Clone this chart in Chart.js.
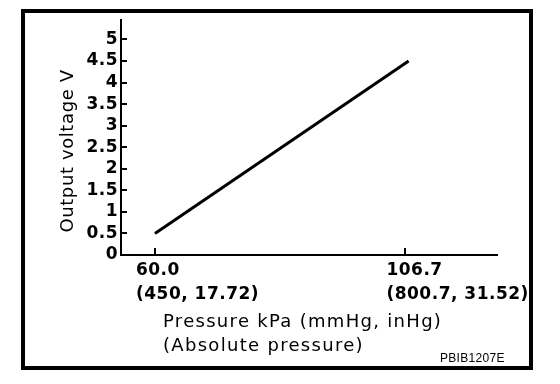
<!DOCTYPE html>
<html>
<head>
<meta charset="utf-8">
<script src="https://cdn.jsdelivr.net/npm/chart.js@4/dist/chart.umd.min.js"></script>
<style>
  html, body { margin: 0; padding: 0; background: #fff; }
  #c { display: block; }
</style>
</head>
<body>
<canvas id="c" width="560" height="384"></canvas>
<script>
// ---- data ----
const pressureKPa = [60.0, 107.3];
const outputVoltage = [0.5, 4.5];
const xTickValues = [60.0, 106.7];
const xTickLabels = [["60.0", "(450, 17.72)"], ["106.7", "(800.7, 31.52)"]];
const yTickValues = [0, 0.5, 1, 1.5, 2, 2.5, 3, 3.5, 4, 4.5, 5];
const yTitle = "Output voltage V";
const xTitleLines = ["Pressure kPa (mmHg, inHg)", "(Absolute pressure)"];
const noteText = "PBIB1207E";

const frameAndText = {
  id: 'frameAndText',
  beforeDraw(chart) {
    const ctx = chart.ctx;
    ctx.save();
    ctx.fillStyle = '#fff';
    ctx.fillRect(0, 0, chart.width, chart.height);
    ctx.restore();
    ctx.letterSpacing = '0.5px';
  },
  afterDraw(chart) {
    const ctx = chart.ctx;
    const xs = chart.scales.x, ys = chart.scales.y;
    const area = chart.chartArea;
    ctx.save();
    ctx.strokeStyle = '#000';
    // inward tick marks
    ctx.lineWidth = 2;
    ctx.beginPath();
    ys.ticks.forEach(t => {
      if (t.value === 0) return;
      const y = Math.round(ys.getPixelForValue(t.value));
      ctx.moveTo(area.left, y);
      ctx.lineTo(area.left + 6, y);
    });
    xs.ticks.forEach(t => {
      const x = Math.round(xs.getPixelForValue(t.value));
      ctx.moveTo(x, area.bottom);
      ctx.lineTo(x, area.bottom - 7);
    });
    ctx.stroke();
    // outer frame
    ctx.lineWidth = 4;
    ctx.strokeRect(23, 11, 508, 357);
    // y title
    ctx.fillStyle = '#000';
    ctx.letterSpacing = '0.6px';
    ctx.font = '18px "DejaVu Sans"';
    ctx.save();
    ctx.translate(73, 151);
    ctx.rotate(-Math.PI / 2);
    ctx.textAlign = 'center';
    ctx.textBaseline = 'alphabetic';
    ctx.fillText(yTitle, 0, 0);
    ctx.restore();
    // x title
    ctx.letterSpacing = '1.3px';
    ctx.textAlign = 'left';
    ctx.textBaseline = 'alphabetic';
    ctx.fillText(xTitleLines[0], 163, 327);
    ctx.fillText(xTitleLines[1], 163, 351);
    // note
    ctx.letterSpacing = '0.3px';
    ctx.font = '12px "Liberation Sans"';
    ctx.fillText(noteText, 440, 362);
    ctx.restore();
  }
};

new Chart(document.getElementById('c'), {
  type: 'line',
  data: {
    datasets: [{
      data: pressureKPa.map((p, i) => ({ x: p, y: outputVoltage[i] })),
      borderColor: '#000',
      borderWidth: 3,
      pointRadius: 0,
      tension: 0,
      fill: false
    }]
  },
  options: {
    responsive: false,
    animation: false,
    events: [],
    layout: { padding: { top: 20, right: 62, left: 0, bottom: 0 } },
    plugins: { legend: { display: false }, tooltip: { enabled: false }, title: { display: false } },
    scales: {
      x: {
        type: 'linear',
        min: 53.67,
        max: 123.8,
        afterBuildTicks(scale) { scale.ticks = xTickValues.map(v => ({ value: v })); },
        afterFit(scale) { scale.height = 129; },
        grid: { display: false, drawTicks: false },
        border: { display: true, color: '#000', width: 2 },
        ticks: {
          autoSkip: false,
          maxRotation: 0,
          align: 'start',
          labelOffset: -19,
          padding: 4,
          color: '#000',
          font: { family: 'DejaVu Sans', weight: 'bold', size: 17, lineHeight: 1.41 },
          callback(value) {
            const i = xTickValues.indexOf(value);
            return i >= 0 ? xTickLabels[i] : '';
          }
        }
      },
      y: {
        type: 'linear',
        min: 0,
        max: 5.45,
        afterBuildTicks(scale) { scale.ticks = yTickValues.map(v => ({ value: v })); },
        afterFit(scale) { scale.width = 121; },
        grid: { display: false, drawTicks: false },
        border: { display: true, color: '#000', width: 2 },
        ticks: {
          autoSkip: false,
          padding: 3,
          color: '#000',
          font: { family: 'DejaVu Sans', weight: 'bold', size: 17 },
          callback(value) { return String(value); }
        }
      }
    }
  },
  plugins: [frameAndText]
});
</script>
</body>
</html>
